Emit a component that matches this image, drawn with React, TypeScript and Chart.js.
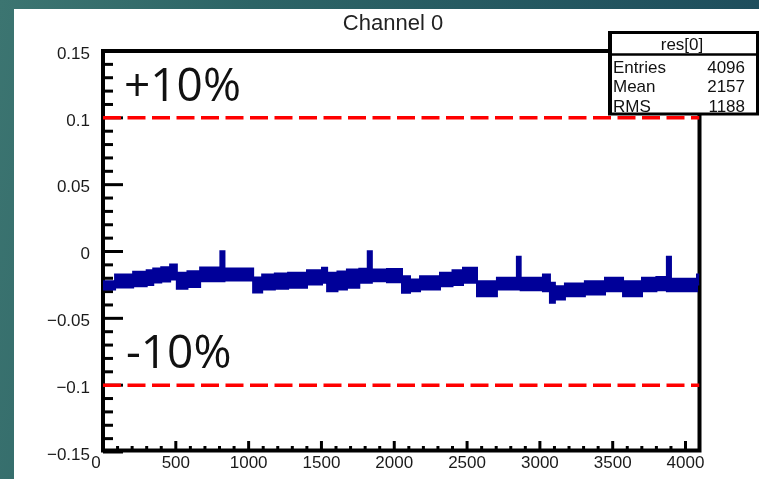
import React, { useEffect, useRef } from "react";
import { Chart, registerables } from "chart.js";

Chart.register(...registerables);

// ---- data ----
const TITLE = "Channel 0";
const X_MIN = 0;
const X_MAX = 4096;
const Y_MIN = -0.15;
const Y_MAX = 0.15;
const xTickValues = [0, 500, 1000, 1500, 2000, 2500, 3000, 3500, 4000];
const yTickValues = [-0.15, -0.1, -0.05, 0, 0.05, 0.1, 0.15];
const X_MINOR_STEP = 100;
const Y_MINOR_STEP = 0.01;

// bin low edges of the (coarsely read) histogram envelope
const binEdges = [
  0, 83, 207, 300, 345, 400, 461, 507, 580, 667, 806, 834, 1031, 1093, 1180, 1271,
  1401, 1504, 1539, 1610, 1675, 1760, 1818, 1846, 1950, 2053, 2108, 2177, 2314,
  2400, 2472, 2568, 2705, 2842, 2868, 3021, 3069, 3103, 3172, 3309, 3447, 3571,
  3701, 3800, 3872, 3900, 4079, 4096,
];
// upper edge of the noisy band, one value per bin range
const upperEnvelope = [
  -0.0222, -0.0172, -0.0152, -0.0140, -0.0127, -0.0117, -0.0097, -0.0159, -0.0147,
  -0.0120, 0.0002, -0.0127, -0.0194, -0.0172, -0.0165, -0.0159, -0.0140, -0.0122,
  -0.0159, -0.0150, -0.0135, -0.0129, 0.0002, -0.0135, -0.0130, -0.0185, -0.0209,
  -0.0185, -0.0159, -0.0140, -0.0122, -0.0222, -0.0197, -0.0040, -0.0197, -0.0172,
  -0.0234, -0.0260, -0.0239, -0.0222, -0.0197, -0.0222, -0.0197, -0.0190, -0.0040,
  -0.0204, -0.0172,
];
// lower edge of the noisy band
const lowerEnvelope = [
  -0.0284, -0.0269, -0.0260, -0.0250, -0.0232, -0.0225, -0.0209, -0.0279, -0.0265,
  -0.0222, -0.0222, -0.0217, -0.0307, -0.0284, -0.0278, -0.0272, -0.0247, -0.0234,
  -0.0297, -0.0285, -0.0272, -0.0234, -0.0234, -0.0222, -0.0230, -0.0309, -0.0297,
  -0.0284, -0.0260, -0.0250, -0.0234, -0.0334, -0.0284, -0.0284, -0.0290, -0.0297,
  -0.0384, -0.0359, -0.0334, -0.0322, -0.0297, -0.0334, -0.0297, -0.0290, -0.0297,
  -0.0297, -0.0247,
];
const limitLevels = [0.1, -0.1];
const limitLabels = ["+10%", "-10%"];
const statsTitle = "res[0]";
const statsNames = ["Entries", "Mean", "RMS"];
const statsValues = ["4096", "2157", "1188"];

const NAVY = "#000099";
const AXIS_FONT = "'Liberation Sans', Arial, sans-serif";

function fmtY(v: number): string {
  const r = Math.round(v * 100) / 100;
  if (Math.abs(r) < 1e-9) return "0";
  const s = String(Math.abs(r));
  return r < 0 ? "\u2212" + s : s;
}

// histogram step outline built from bin edges + bin values
function stepPoints(vals: number[]) {
  const out: { x: number; y: number }[] = [];
  for (let i = 0; i < binEdges.length - 1; i++) {
    out.push({ x: binEdges[i], y: vals[i] });
    out.push({ x: binEdges[i + 1], y: vals[i] });
  }
  return out;
}

const rootPlugin = {
  id: "rootStyle",
  beforeDatasetsDraw(chart: any) {
    const { ctx, chartArea: a, scales } = chart;
    const xs = scales.x;
    const ys = scales.y;
    ctx.save();
    ctx.strokeStyle = "#000";
    ctx.lineWidth = 3;
    for (let v = X_MIN; v <= X_MAX; v += X_MINOR_STEP) {
      const px = xs.getPixelForValue(v);
      const major = xTickValues.includes(v);
      ctx.beginPath();
      ctx.moveTo(px, a.bottom);
      ctx.lineTo(px, a.bottom - (major ? 11 : 6));
      ctx.stroke();
    }
    const n = Math.round((Y_MAX - Y_MIN) / Y_MINOR_STEP);
    for (let i = 0; i <= n; i++) {
      const v = Y_MIN + i * Y_MINOR_STEP;
      const py = ys.getPixelForValue(v);
      const major = i % 5 === 0;
      ctx.beginPath();
      ctx.moveTo(a.left, py);
      ctx.lineTo(a.left + (major ? 20 : 10), py);
      ctx.stroke();
    }
    ctx.lineWidth = 4;
    ctx.strokeRect(a.left, a.top, a.right - a.left, a.bottom - 1.5 - a.top);
    ctx.restore();
  },
  afterDraw(chart: any) {
    const { ctx, chartArea: a, scales } = chart;
    const ys = scales.y;
    ctx.save();
    ctx.fillStyle = "#111";
    ctx.font = "400 46px 'Open Sans', 'Noto Sans', sans-serif";
    ctx.textAlign = "left";
    ctx.textBaseline = "alphabetic";
    ctx.fillText(limitLabels[0], a.left + 21, ys.getPixelForValue(limitLevels[0]) - 17);
    ctx.fillText(limitLabels[1], a.left + 23, ys.getPixelForValue(limitLevels[1]) - 17);

    ctx.fillStyle = "#222";
    ctx.font = `22px ${AXIS_FONT}`;
    ctx.textAlign = "center";
    ctx.fillText(TITLE, 393, 30);

    const bx = 608, by = 31, bw = 151, bh = 84;
    ctx.fillStyle = "#fff";
    ctx.fillRect(bx, by, bw, bh);
    ctx.fillStyle = "#111";
    ctx.font = `17px ${AXIS_FONT}`;
    ctx.textAlign = "center";
    ctx.fillText(statsTitle, 682, 50);
    ctx.save();
    ctx.beginPath();
    ctx.rect(bx, by, bw, 82);
    ctx.clip();
    const bases = [73, 91.5, 112];
    statsNames.forEach((nm, i) => {
      ctx.textAlign = "left";
      ctx.fillText(nm, 613, bases[i]);
      ctx.textAlign = "right";
      ctx.fillText(statsValues[i], 745, bases[i]);
    });
    ctx.restore();
    ctx.strokeStyle = "#000";
    ctx.lineWidth = 3;
    ctx.beginPath();
    ctx.moveTo(bx, by + 1.5);
    ctx.lineTo(bx + bw, by + 1.5);
    ctx.moveTo(bx + bw - 1.5, by);
    ctx.lineTo(bx + bw - 1.5, by + bh);
    ctx.moveTo(bx, by + bh - 1);
    ctx.lineTo(bx + bw, by + bh - 1);
    ctx.stroke();
    ctx.lineWidth = 4;
    ctx.beginPath();
    ctx.moveTo(bx + 2, by);
    ctx.lineTo(bx + 2, by + bh);
    ctx.stroke();
    ctx.lineWidth = 2.5;
    ctx.beginPath();
    ctx.moveTo(bx, 54.5);
    ctx.lineTo(bx + bw, 54.5);
    ctx.stroke();
    ctx.restore();
  },
};

export default function App() {
  const ref = useRef<HTMLCanvasElement | null>(null);
  useEffect(() => {
    document.body.style.margin = "0";
    const canvas = ref.current!;
    const chart = new Chart(canvas, {
      type: "line",
      data: {
        datasets: [
          {
            label: "lower",
            data: stepPoints(lowerEnvelope),
            borderColor: NAVY,
            borderWidth: 2,
            pointRadius: 0,
            fill: false,
          },
          {
            label: "upper",
            data: stepPoints(upperEnvelope),
            borderColor: NAVY,
            backgroundColor: NAVY,
            borderWidth: 2,
            pointRadius: 0,
            fill: "-1",
          },
          ...limitLevels.map((lv) => ({
            label: String(lv),
            data: [
              { x: X_MIN, y: lv },
              { x: X_MAX, y: lv },
            ],
            borderColor: "#ff0000",
            borderWidth: 3.5,
            borderDash: [18, 6.5],
            pointRadius: 0,
            fill: false,
          })),
        ],
      },
      options: {
        animation: false,
        responsive: false,
        devicePixelRatio: 1,
        layout: { padding: { left: 0, right: 59.5, top: 51, bottom: 0 } },
        plugins: { legend: { display: false }, tooltip: { enabled: false }, title: { display: false } },
        scales: {
          x: {
            type: "linear",
            min: X_MIN,
            max: X_MAX,
            grid: { display: false, drawTicks: false },
            border: { display: false },
            afterBuildTicks: (s: any) => {
              s.ticks = xTickValues.map((value) => ({ value }));
            },
            ticks: {
              autoSkip: false,
              maxRotation: 0,
              padding: 1,
              color: "#1a1a1a",
              font: { family: AXIS_FONT, size: 17 },
              callback: (v: any) => (Number(v) === 0 ? "0   " : String(v)),
            },
            afterFit: (s: any) => {
              s.height = 27;
            },
          },
          y: {
            type: "linear",
            min: Y_MIN,
            max: Y_MAX,
            grid: { display: false, drawTicks: false },
            border: { display: false },
            afterBuildTicks: (s: any) => {
              s.ticks = yTickValues.map((value) => ({ value }));
            },
            ticks: {
              autoSkip: false,
              padding: 13,
              labelOffset: 3,
              color: "#1a1a1a",
              font: { family: AXIS_FONT, size: 17 },
              callback: (v: any) => fmtY(Number(v)),
            },
            afterFit: (s: any) => {
              s.width = 103;
            },
          },
        },
      },
      plugins: [rootPlugin],
    } as any);
    return () => chart.destroy();
  }, []);

  return (
    <div
      style={{
        position: "fixed",
        left: 0,
        top: 0,
        width: 759,
        height: 479,
        overflow: "hidden",
        background: "linear-gradient(100deg, #3c7571 0%, #2d6466 30%, #1c4a5b 100%)",
      }}
    >
      <div style={{ position: "absolute", left: 14, top: 9, right: 0, bottom: 0, background: "#fff" }} />
      <canvas
        ref={ref}
        width={759}
        height={479}
        style={{ position: "absolute", left: 0, top: 0, width: 759, height: 479 }}
      />
    </div>
  );
}
